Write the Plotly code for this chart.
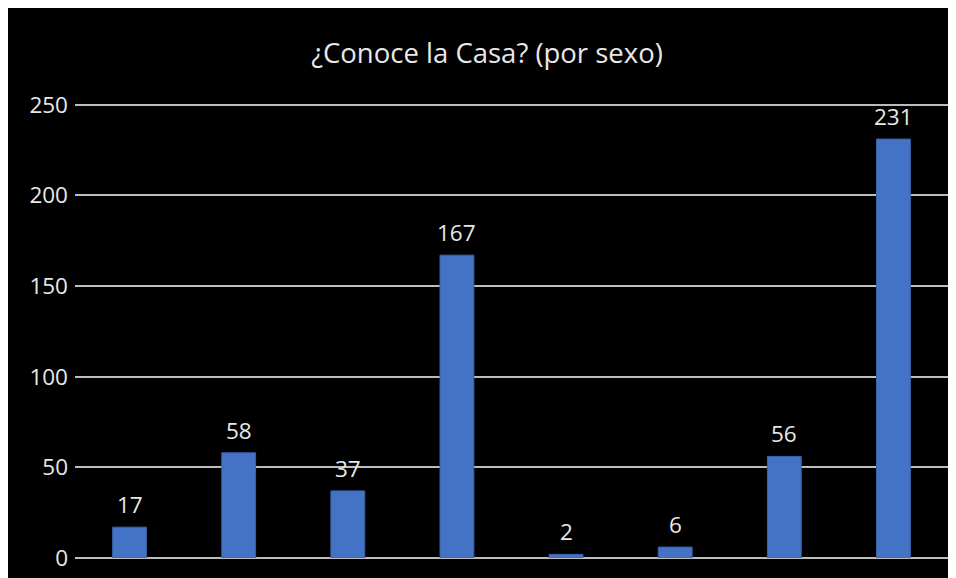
import plotly.graph_objects as go

categories = ["A", "B", "C", "D", "E", "F", "G", "H"]
values = [17, 58, 37, 167, 2, 6, 56, 231]
y_ticks = [0, 50, 100, 150, 200, 250]

W, H = 956, 578
L, R, T, B = 67, 16, 93, 28
FONT = "Open Sans"
TXT = "#e8e8e8"

fig = go.Figure(go.Bar(
    x=categories, y=values,
    marker=dict(color="#4472C4", line=dict(color="#3b63ad", width=1)),
    width=0.31,
    hoverinfo="x+y",
))

for c, v in zip(categories, values):
    fig.add_annotation(x=c, y=v, text=str(v), showarrow=False,
                       yanchor="bottom", yshift=5,
                       font=dict(color=TXT, size=22.5, family=FONT))

fig.update_layout(
    width=W, height=H,
    margin=dict(l=L, r=R, t=T, b=B),
    paper_bgcolor="black",
    plot_bgcolor="black",
    showlegend=False,
    title=dict(text="¿Conoce la Casa? (por sexo)", x=479 / W, xanchor="center",
               y=1 - 45 / H, yanchor="middle",
               font=dict(color=TXT, size=27.5, family=FONT)),
    xaxis=dict(showticklabels=False, showgrid=False, zeroline=False, ticks=""),
    yaxis=dict(range=[0, 252], tickvals=y_ticks, showgrid=True, gridcolor="#bdbdbd",
               gridwidth=1.5, zeroline=True, zerolinecolor="#bdbdbd", zerolinewidth=1.5,
               tickfont=dict(color=TXT, size=22.5, family=FONT),
               ticks="", ticklabelstandoff=6),
    bargap=0.69,
)

fig.write_html("out.html")
